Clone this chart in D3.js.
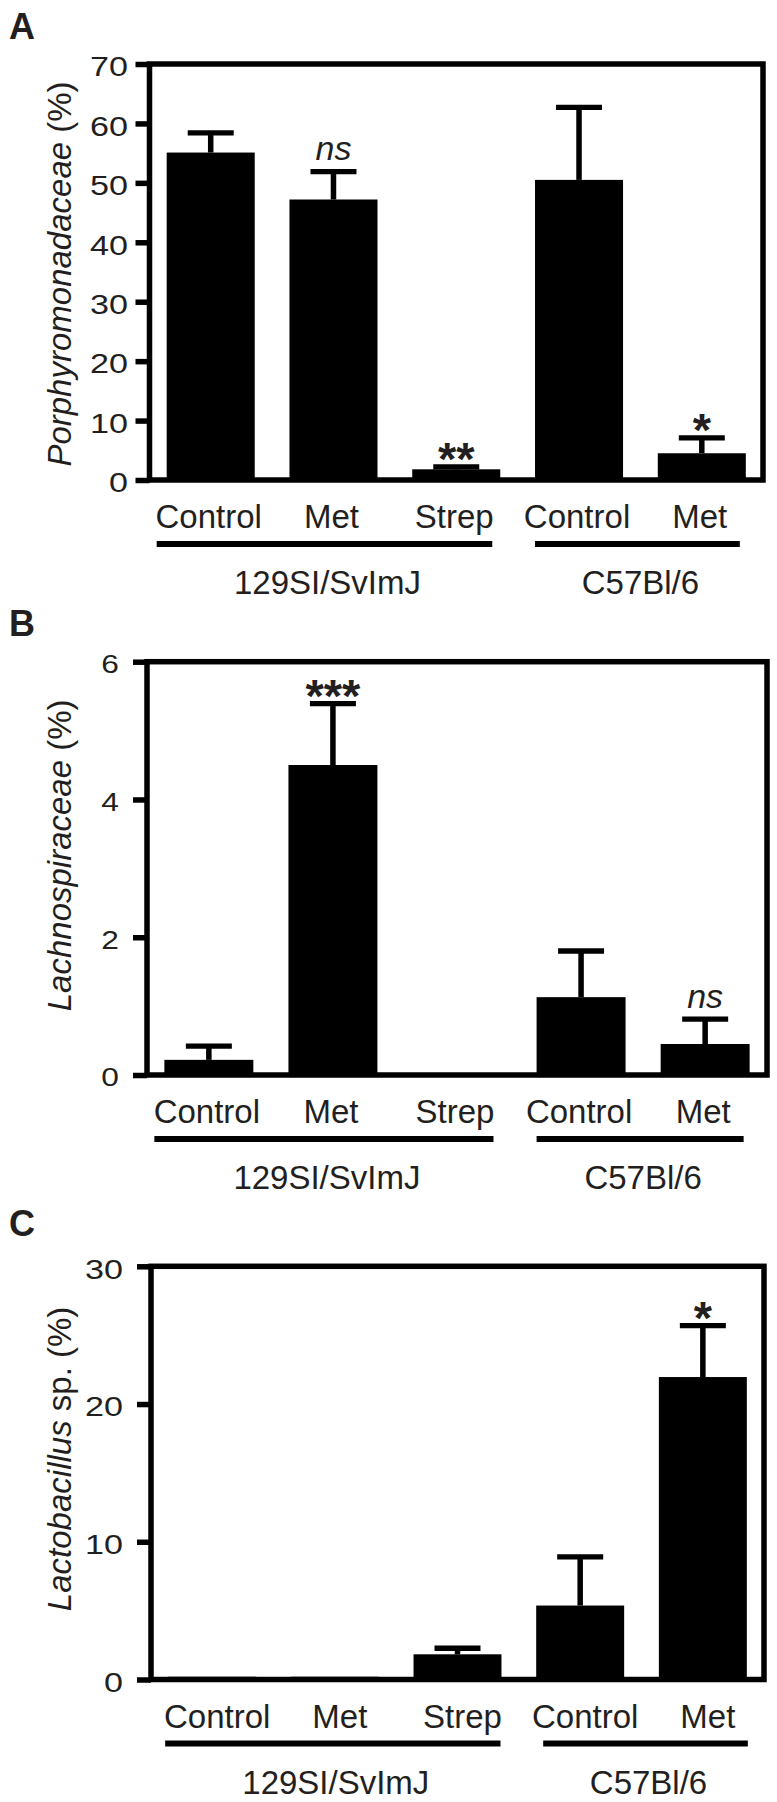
<!DOCTYPE html>
<html>
<head>
<meta charset="utf-8">
<script src="https://cdn.jsdelivr.net/npm/d3@7"></script>
<style>
    body { margin: 0; background: #fff; }
    svg { display: block; font-family: 'Liberation Sans', Arial, sans-serif; }
</style>
</head>
<body>
<svg id="chart" width="777" height="1802"></svg>
<script>
'use strict';

// shared x categories
const categories = ['Control', 'Met', 'Strep', 'Control', 'Met'];
const strains = ['129SI/SvImJ', 'C57Bl/6'];
const strainGroups = [[0, 2], [3, 4]];

// A - Porphyromonadaceae
const porphMean = [55.1, 47.2, 1.8, 50.5, 4.5];
const porphSem = [3.3, 4.7, 0.4, 12.2, 2.6];
const porphSig = ['', 'ns', '**', '', '*'];
const porphTicks = [0, 10, 20, 30, 40, 50, 60, 70];

// B - Lachnospiraceae
const lachnoMean = [0.22, 4.5, 0.02, 1.13, 0.45];
const lachnoSem = [0.2, 0.89, 0, 0.67, 0.36];
const lachnoSig = ['', '***', '', '', 'ns'];
const lachnoTicks = [0, 2, 4, 6];

// C - Lactobacillus sp.
const lactoMean = [0.2, 0.2, 1.83, 5.37, 21.96];
const lactoSem = [0, 0, 0.44, 3.53, 3.74];
const lactoSig = ['', '', '', '', '*'];
const lactoTicks = [0, 10, 20, 30];

const INK = '#000';
const TEXT = '#231f20';
const STRETCH = 1.22;      // tick digits are drawn a bit wide
const LINE_PAD = [[-10, -8], [0, -6]];

const panels = [
    {letter: 'A', mean: porphMean, sem: porphSem, sig: porphSig, ticks: porphTicks,
     name: 'Porphyromonadaceae', suffix: ' (%)',
     top: 64, bottom: 480, left: 149.5, right: 763, letterY: 39,
     tickGap: 21.5, tickFont: 28, titleShift: 2, textShift: 0},
    {letter: 'B', mean: lachnoMean, sem: lachnoSem, sig: lachnoSig, ticks: lachnoTicks,
     name: 'Lachnospiraceae', suffix: ' (%)',
     top: 661.7, bottom: 1075, left: 147, right: 767, letterY: 636,
     tickGap: 28, tickFont: 26, titleShift: -13, textShift: 0},
    {letter: 'C', mean: lactoMean, sem: lactoSem, sig: lactoSig, ticks: lactoTicks,
     name: 'Lactobacillus', suffix: ' sp. (%)',
     top: 1266.3, bottom: 1679.5, left: 151, right: 764, letterY: 1236,
     tickGap: 28, tickFont: 28, titleShift: -14, textShift: 7},
];

const svg = d3.select('#chart');
panels.forEach(drawPanel);

function drawPanel(p) {
    const g = svg.append('g');

    const x = d3.scaleBand()
        .domain(d3.range(categories.length))
        .range([p.left, p.right])
        .paddingInner(0.283)
        .paddingOuter(0.14);
    const y = d3.scaleLinear()
        .domain([0, d3.max(p.ticks)])
        .range([p.bottom, p.top]);
    const bw = x.bandwidth();
    const cx = i => x(i) + bw / 2;

    const rows = p.mean.map((m, i) => ({i, m, s: p.sem[i], sig: p.sig[i]}));

    g.append('g')
        .attr('fill', INK)
        .selectAll('rect')
        .data(rows)
        .join('rect')
        .attr('x', d => x(d.i))
        .attr('y', d => y(d.m))
        .attr('width', bw)
        .attr('height', d => y(0) - y(d.m));

    const err = g.append('g')
        .attr('stroke', INK)
        .selectAll('g')
        .data(rows.filter(d => d.s > 0))
        .join('g');

    err.append('line')
        .attr('stroke-width', 5.5)
        .attr('x1', d => cx(d.i))
        .attr('x2', d => cx(d.i))
        .attr('y1', d => y(d.m))
        .attr('y2', d => y(d.m + d.s));

    err.append('line')
        .attr('stroke-width', 5.3)
        .attr('x1', d => cx(d.i) - 23)
        .attr('x2', d => cx(d.i) + 23)
        .attr('y1', d => y(d.m + d.s))
        .attr('y2', d => y(d.m + d.s));

    // box round the plot
    g.append('rect')
        .attr('x', p.left)
        .attr('y', p.top)
        .attr('width', p.right - p.left)
        .attr('height', p.bottom - p.top)
        .attr('fill', 'none')
        .attr('stroke', INK)
        .attr('stroke-width', 5.5);

    const axis = g.append('g')
        .attr('transform', `translate(${p.left},0)`)
        .call(d3.axisLeft(y).tickValues(p.ticks).tickSize(14).tickFormat(d3.format('d')));
    axis.attr('font-family', null).attr('font-size', p.tickFont).attr('color', INK);
    axis.select('.domain').remove();
    axis.selectAll('.tick line').attr('stroke-width', 5.5);
    axis.selectAll('.tick text')
        .attr('fill', TEXT)
        .attr('x', -p.tickGap / STRETCH)
        .attr('dy', '0.42em')
        .attr('transform', `scale(${STRETCH},1)`);

    // significance marks
    const capTop = d => (d.s > 0 ? y(d.m + d.s) : y(d.m)) - 2.65;
    g.append('g')
        .attr('fill', TEXT)
        .attr('text-anchor', 'middle')
        .selectAll('text')
        .data(rows.filter(d => d.sig))
        .join('text')
        .attr('x', d => cx(d.i))
        .attr('y', d => d.sig === 'ns' ? capTop(d) - 9 : capTop(d) - 9 + 0.42 * 47)
        .attr('font-size', d => d.sig === 'ns' ? 34 : 47)
        .attr('font-weight', d => d.sig === 'ns' ? 'normal' : 'bold')
        .attr('font-style', d => d.sig === 'ns' ? 'italic' : 'normal')
        .text(d => d.sig);

    // category labels
    g.append('g')
        .attr('fill', TEXT)
        .attr('font-size', 33)
        .attr('text-anchor', 'middle')
        .selectAll('text')
        .data(categories)
        .join('text')
        .attr('x', (d, i) => cx(i) - 2 + p.textShift)
        .attr('y', p.bottom + 48)
        .text(d => d);

    // strain bars and names
    const groups = strainGroups.map(([a, b], k) => ({
        name: strains[k],
        x1: x(a) + LINE_PAD[k][0] + p.textShift,
        x2: x(b) + bw + LINE_PAD[k][1] + p.textShift
    }));

    g.append('g')
        .attr('stroke', INK)
        .attr('stroke-width', 6)
        .selectAll('line')
        .data(groups)
        .join('line')
        .attr('x1', d => d.x1)
        .attr('x2', d => d.x2)
        .attr('y1', p.bottom + 64)
        .attr('y2', p.bottom + 64);

    g.append('g')
        .attr('fill', TEXT)
        .attr('font-size', 33)
        .attr('text-anchor', 'middle')
        .selectAll('text')
        .data(groups)
        .join('text')
        .attr('x', d => (d.x1 + d.x2) / 2 + 3)
        .attr('y', p.bottom + 114)
        .text(d => d.name);

    // y title
    const cy = (p.top + p.bottom) / 2 + p.titleShift;
    const title = g.append('text')
        .attr('fill', TEXT)
        .attr('font-size', 33)
        .attr('text-anchor', 'middle')
        .attr('transform', `translate(71,${cy}) rotate(-90)`);
    title.append('tspan').attr('font-style', 'italic').text(p.name);
    title.append('tspan').text(p.suffix);

    g.append('text')
        .attr('x', 9)
        .attr('y', p.letterY)
        .attr('fill', TEXT)
        .attr('font-size', 36)
        .attr('font-weight', 'bold')
        .text(p.letter);
}
</script>
</body>
</html>
